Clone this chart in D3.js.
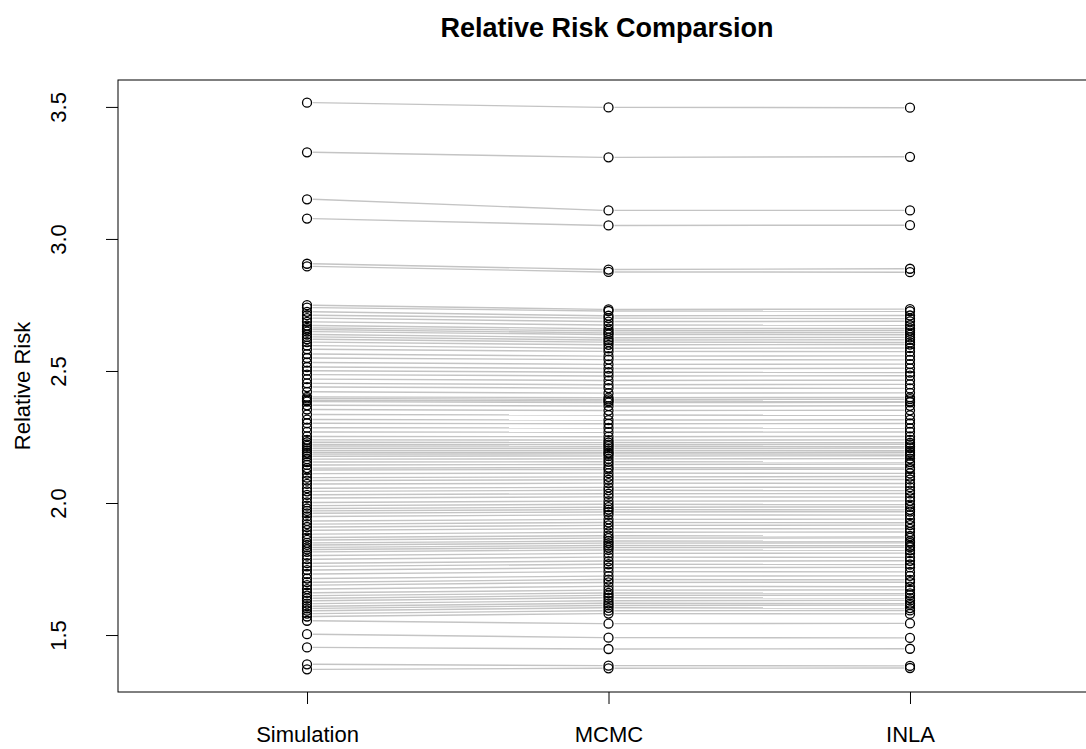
<!DOCTYPE html>
<html>
<head>
<meta charset="utf-8">
<script src="https://cdn.jsdelivr.net/npm/d3@7"></script>
<style>
    body { margin: 0; background: #fff; }
    text { font-family: "Liberation Sans", Arial, sans-serif; fill: #000; }
</style>
</head>
<body>
<div id="chart"></div>
<script>
// Relative risk per area, three estimates
const methods = ["Simulation", "MCMC", "INLA"];

const simulation = [
    3.518, 3.330, 3.152, 3.079, 2.908, 2.898, 2.751, 2.742, 2.726, 2.713,
    2.702, 2.688, 2.674, 2.665, 2.659, 2.651, 2.640, 2.631, 2.622, 2.611,
    2.598, 2.584, 2.566, 2.551, 2.534, 2.517, 2.503, 2.488, 2.471, 2.455,
    2.441, 2.423, 2.404, 2.398, 2.391, 2.386, 2.372, 2.356, 2.337, 2.318,
    2.304, 2.287, 2.271, 2.254, 2.241, 2.232, 2.224, 2.218, 2.209, 2.201,
    2.193, 2.187, 2.179, 2.168, 2.157, 2.146, 2.134, 2.127, 2.113, 2.098,
    2.087, 2.074, 2.058, 2.046, 2.033, 2.021, 2.004, 1.992, 1.981, 1.972,
    1.963, 1.951, 1.934, 1.922, 1.911, 1.899, 1.884, 1.871, 1.862, 1.851,
    1.843, 1.834, 1.826, 1.817, 1.803, 1.789, 1.774, 1.762, 1.748, 1.733,
    1.716, 1.702, 1.691, 1.676, 1.662, 1.651, 1.641, 1.632, 1.621, 1.611,
    1.603, 1.594, 1.583, 1.572, 1.556, 1.505, 1.455, 1.391, 1.372
];

const mcmc = [
    3.500, 3.311, 3.110, 3.053, 2.886, 2.877, 2.735, 2.729, 2.711, 2.702,
    2.689, 2.676, 2.662, 2.654, 2.646, 2.640, 2.628, 2.619, 2.611, 2.601,
    2.588, 2.576, 2.558, 2.545, 2.527, 2.511, 2.497, 2.483, 2.466, 2.450,
    2.437, 2.418, 2.401, 2.394, 2.388, 2.382, 2.369, 2.352, 2.335, 2.316,
    2.302, 2.286, 2.270, 2.253, 2.240, 2.231, 2.223, 2.217, 2.209, 2.201,
    2.193, 2.188, 2.180, 2.169, 2.158, 2.148, 2.136, 2.129, 2.115, 2.101,
    2.090, 2.077, 2.061, 2.050, 2.037, 2.025, 2.009, 1.997, 1.986, 1.977,
    1.968, 1.957, 1.940, 1.928, 1.917, 1.905, 1.891, 1.878, 1.869, 1.858,
    1.850, 1.841, 1.833, 1.824, 1.811, 1.797, 1.782, 1.770, 1.757, 1.742,
    1.725, 1.712, 1.701, 1.686, 1.672, 1.661, 1.652, 1.643, 1.632, 1.622,
    1.614, 1.605, 1.594, 1.583, 1.545, 1.492, 1.449, 1.386, 1.376
];

const inla = [
    3.499, 3.313, 3.110, 3.054, 2.889, 2.876, 2.736, 2.728, 2.712, 2.700,
    2.690, 2.675, 2.663, 2.655, 2.647, 2.639, 2.629, 2.620, 2.610, 2.602,
    2.589, 2.575, 2.559, 2.544, 2.528, 2.512, 2.496, 2.484, 2.467, 2.451,
    2.436, 2.419, 2.402, 2.395, 2.387, 2.383, 2.370, 2.353, 2.334, 2.317,
    2.303, 2.285, 2.271, 2.254, 2.241, 2.230, 2.224, 2.216, 2.210, 2.200,
    2.194, 2.187, 2.181, 2.170, 2.157, 2.149, 2.135, 2.130, 2.114, 2.102,
    2.091, 2.076, 2.062, 2.049, 2.038, 2.024, 2.010, 1.996, 1.987, 1.976,
    1.969, 1.956, 1.941, 1.927, 1.918, 1.904, 1.892, 1.877, 1.870, 1.857,
    1.851, 1.840, 1.834, 1.823, 1.812, 1.796, 1.783, 1.769, 1.758, 1.741,
    1.726, 1.711, 1.702, 1.685, 1.673, 1.660, 1.653, 1.642, 1.633, 1.621,
    1.615, 1.604, 1.595, 1.582, 1.546, 1.491, 1.450, 1.385, 1.377
];

const yTicks = [1.5, 2.0, 2.5, 3.0, 3.5];

const width = 1086;
const height = 749;
const plot = { left: 118, right: 1096, top: 80, bottom: 692 };

const svg = d3.select("#chart")
    .append("svg")
    .attr("width", width)
    .attr("height", height);

// rows: one per area, values for each method
const rows = simulation.map((v, i) => [v, mcmc[i], inla[i]]);

// R style axis limits: data range padded by 4%
const all = simulation.concat(mcmc, inla);
const [lo, hi] = d3.extent(all);
const pad = (hi - lo) * 0.04;

const x = d3.scaleLinear()
    .domain([0.373, 3.617])
    .range([plot.left, plot.right]);

const y = d3.scaleLinear()
    .domain([lo - pad, hi + pad])
    .range([plot.bottom, plot.top]);

// gray connecting lines (type = "b": gaps round the points)
const gap = 6;
const segs = [];
rows.forEach(r => {
    for (let j = 0; j < 2; j++) {
        segs.push({ x1: j + 1, y1: r[j], x2: j + 2, y2: r[j + 1] });
    }
});

svg.append("g")
    .selectAll("line")
    .data(segs)
    .join("line")
    .attr("x1", d => x(d.x1) + gap)
    .attr("x2", d => x(d.x2) - gap)
    .attr("y1", d => y(d.y1))
    .attr("y2", d => y(d.y2))
    .attr("stroke", "#c4c4c4")
    .attr("stroke-width", 1.4);

// open circles
const pts = [];
rows.forEach(r => r.forEach((v, j) => pts.push({ m: j + 1, v: v })));

svg.append("g")
    .selectAll("circle")
    .data(pts)
    .join("circle")
    .attr("cx", d => x(d.m))
    .attr("cy", d => y(d.v))
    .attr("r", 4.5)
    .attr("fill", "none")
    .attr("stroke", "#000")
    .attr("stroke-width", 1.3);

// frame
svg.append("rect")
    .attr("x", plot.left)
    .attr("y", plot.top)
    .attr("width", plot.right - plot.left)
    .attr("height", plot.bottom - plot.top)
    .attr("fill", "none")
    .attr("stroke", "#000")
    .attr("stroke-width", 1);

// y axis
const yAxis = svg.append("g")
    .attr("transform", `translate(${plot.left},0)`)
    .call(d3.axisLeft(y).tickValues(yTicks).tickSize(12).tickFormat(d3.format(".1f")));
yAxis.select(".domain").remove();
yAxis.selectAll("text")
    .attr("x", null).attr("dy", null)
    .attr("text-anchor", "middle")
    .attr("transform", d => `translate(-52,${y(d)}) rotate(-90)`)
    .attr("y", 0)
    .style("font-size", "22px")
    .style("font-family", "Liberation Sans, Arial, sans-serif")
    .style("fill", "#000");
yAxis.selectAll(".tick").attr("transform", "translate(0,0)");
yAxis.selectAll(".tick line")
    .attr("y1", d => y(d)).attr("y2", d => y(d));

// x axis
const xAxis = svg.append("g")
    .attr("transform", `translate(0,${plot.bottom})`)
    .call(d3.axisBottom(x).tickValues([1, 2, 3]).tickSize(12).tickFormat(d => methods[d - 1]));
xAxis.select(".domain").remove();
xAxis.selectAll("text")
    .attr("y", 50).attr("dy", null)
    .style("font-size", "22px")
    .style("font-family", "Liberation Sans, Arial, sans-serif")
    .style("fill", "#000");

// axis title
svg.append("text")
    .attr("transform", `translate(30,${(plot.top + plot.bottom) / 2}) rotate(-90)`)
    .attr("text-anchor", "middle")
    .style("font-size", "22px")
    .text("Relative Risk");

// main title
svg.append("text")
    .attr("x", (plot.left + plot.right) / 2)
    .attr("y", 37)
    .attr("text-anchor", "middle")
    .style("font-size", "27px")
    .style("font-weight", "bold")
    .text("Relative Risk Comparsion");
</script>
</body>
</html>
